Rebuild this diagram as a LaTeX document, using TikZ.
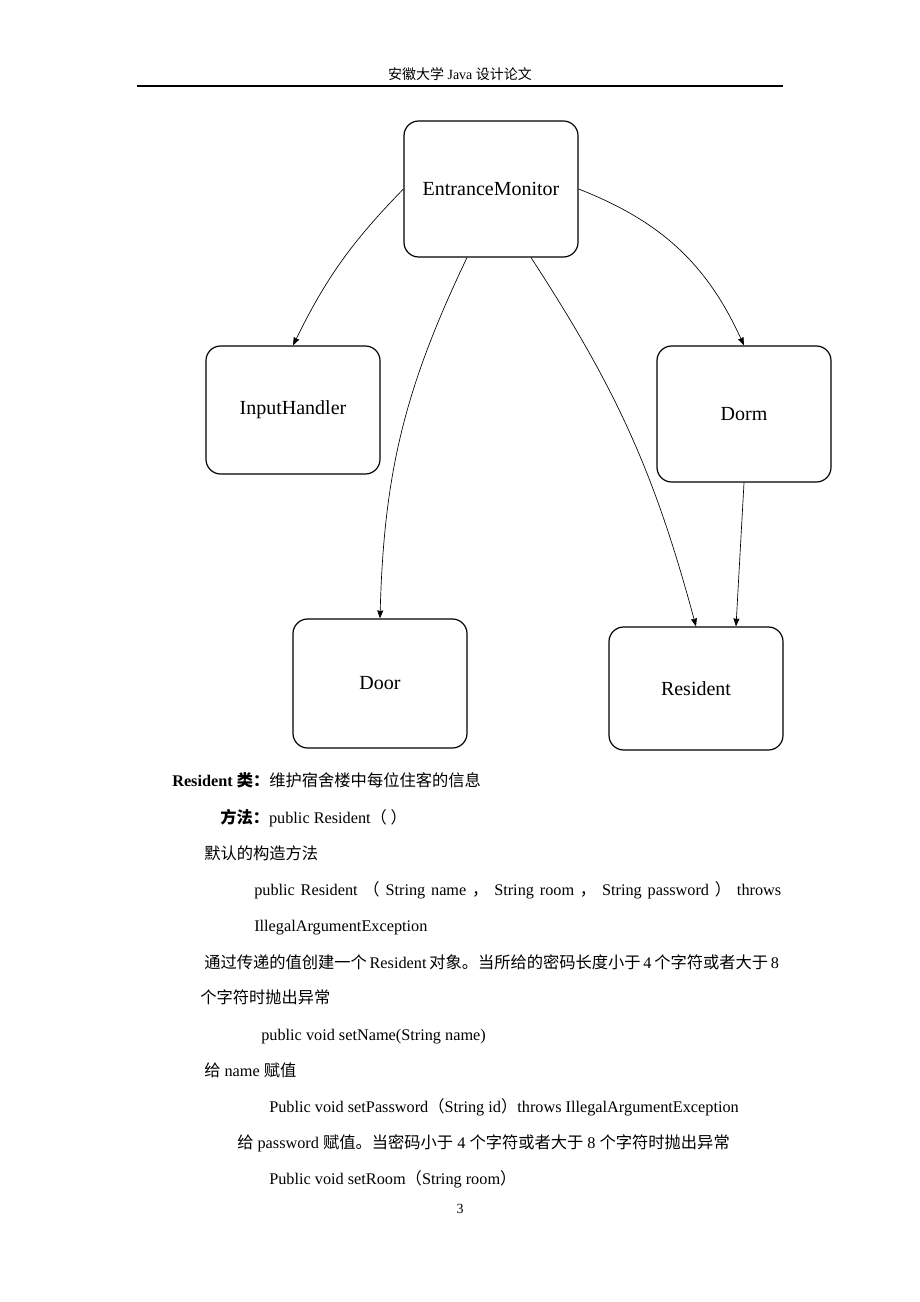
\documentclass[tikz,border=0pt]{standalone}
\usepackage{fontspec}
\setmainfont{Liberation Serif}
\newfontfamily\cjk{Noto Sans CJK SC}
\newcommand{\zh}[1]{{\cjk #1}}
\usetikzlibrary{arrows.meta}

\tikzstyle{cls} = [draw, line width=0.9pt, rounded corners=11pt,
  minimum width=130.5pt, font=\fontsize{15}{18}\selectfont]
\tikzstyle{dep} = [-{Stealth[length=6pt, width=4.5pt, inset=0.5pt]}, line width=0.5pt]
\tikzstyle{txt} = [anchor=base west, inner sep=0pt,
  font=\fontsize{12.2}{14}\selectfont]

\begin{document}
\begin{tikzpicture}[x=0.75pt, y=-0.75pt]
  \useasboundingbox (0, 0) rectangle (920, 1302);

  % page header
  \node[anchor=base, inner sep=0pt, font=\fontsize{10.5}{12}\selectfont] (head) at (460, 80) {\zh{安徽大学} Java \zh{设计论文}};
  \draw[line width=0.8pt] (137, 86) -- (783, 86);

  % classes
  \node[cls, minimum height=102pt] (em) at (491, 189) {EntranceMonitor};
  \node[cls, minimum height=96pt] (ih) at (293, 410) {InputHandler};
  \node[cls, minimum height=102pt] (dorm) at (744, 414) {Dorm};
  \node[cls, minimum height=96.75pt] (door) at (380, 683.5) {Door};
  \node[cls, minimum height=92.25pt] (res) at (696, 688.5) {Resident};

  \draw[dep] (em.west) to[bend right=9] (ih.north);
  \draw[dep] ([xshift=-18pt]em.south) to[bend right=12] (door.north);
  \draw[dep] ([xshift=30pt]em.south) to[bend left=9] (res.north);
  \draw[dep] (em.east) to[bend left=22] (dorm.north);
  \draw[dep] (dorm.south) -- ([xshift=30pt]res.north);

  % text below the figure
  \node[txt] (l1) at (172, 786) {\textbf{Resident \zh{类：}}\zh{维护宿舍楼中每位住客的信息}};
  \node[txt] (l2) at (220, 823) {\textbf{\zh{方法：}}public Resident\zh{（ ）}};
  \node[txt] (l3) at (204, 859) {\zh{默认的构造方法}};
  \node[txt] (l4) at (254, 895) {\makebox[395.25pt][s]{public Resident \zh{（} String name \zh{，} String room \zh{，} String password \zh{）} throws}};
  \node[txt] (l5) at (254, 931) {IllegalArgumentException};
  \node[txt] (l6) at (204, 968) {\makebox[429.75pt][s]{\zh{通过传递的值创建一个} Resident \zh{对象。当所给的密码长度小于} 4 \zh{个字符或者大于} 8}};
  \node[txt] (l7) at (200, 1003) {\zh{个字符时抛出异常}};
  \node[txt] (l8) at (261, 1040) {public void setName(String name)};
  \node[txt] (l9) at (204, 1076) {\zh{给} name \zh{赋值}};
  \node[txt] (l10) at (269, 1112) {Public void setPassword\zh{（}String id\zh{）}throws IllegalArgumentException};
  \node[txt] (l11) at (237, 1148) {\zh{给} password \zh{赋值。当密码小于} 4 \zh{个字符或者大于} 8 \zh{个字符时抛出异常}};
  \node[txt] (l12) at (269, 1184) {Public void setRoom\zh{（}String room\zh{）}};

  \node[anchor=base, inner sep=0pt, font=\fontsize{10.5}{12}\selectfont] (page) at (460, 1213) {3};
\end{tikzpicture}
\end{document}
